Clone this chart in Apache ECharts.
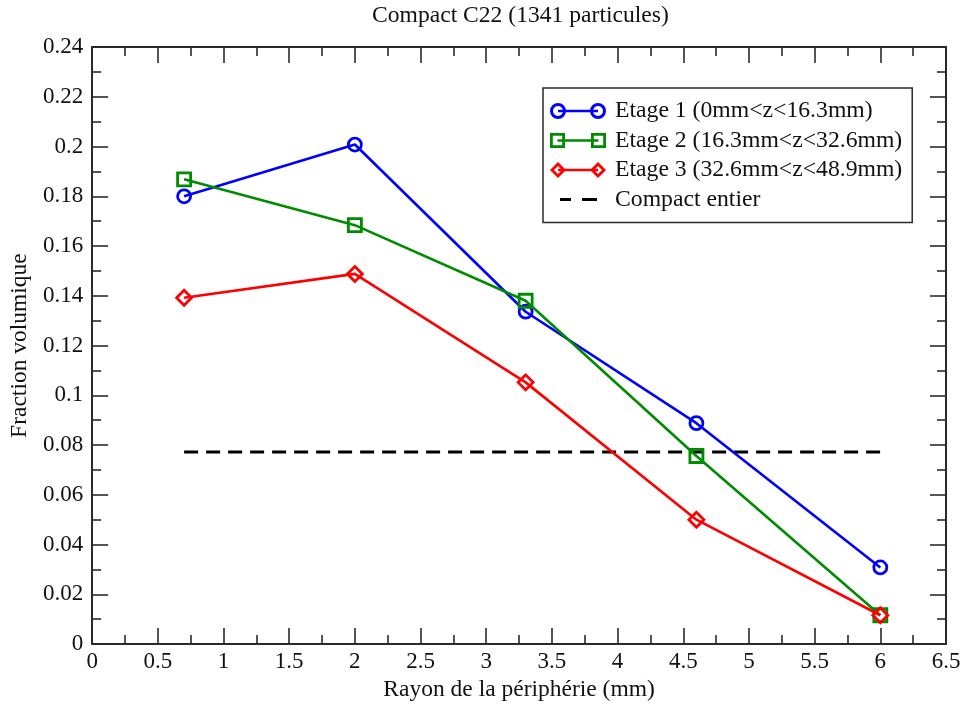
<!DOCTYPE html>
<html>
<head>
<meta charset="utf-8">
<script src="https://cdn.jsdelivr.net/npm/echarts@6/dist/echarts.min.js"></script>
<style>
html,body{margin:0;padding:0;background:#fff;}
#chart{width:967px;height:707px;}
</style>
</head>
<body>
<div id="chart"></div>
<script>
// ---- data ----
var radius = [0.7, 2, 3.3, 4.6, 6];
var etage1 = [0.180, 0.2008, 0.1336, 0.0888, 0.0308];
var etage2 = [0.1868, 0.1684, 0.1380, 0.0756, 0.0116];
var etage3 = [0.1392, 0.1488, 0.1052, 0.0500, 0.0116];
var compactX = [0.7, 6];
var compactY = [0.0772, 0.0772];
var seriesNames = ['Etage 1 (0mm<z<16.3mm)', 'Etage 2 (16.3mm<z<32.6mm)', 'Etage 3 (32.6mm<z<48.9mm)', 'Compact entier'];
var titleText = 'Compact C22 (1341 particules)';
var xName = 'Rayon de la périphérie (mm)';
var yName = 'Fraction volumique';

function pairs(xs, ys) { return xs.map(function (x, i) { return [x, ys[i]]; }); }

var FONT = 'Liberation Serif';
var AX = '#2a2a2a';
var C1 = '#0000ff', C2 = '#008c00', C3 = '#ff0000';

var iconCircle = 'path://M0 8A8 8 0 1 1 16 8A8 8 0 1 1 0 8Z M3 8A5 5 0 1 0 13 8A5 5 0 1 0 3 8Z ' +
  'M40 8A8 8 0 1 1 56 8A8 8 0 1 1 40 8Z M43 8A5 5 0 1 0 53 8A5 5 0 1 0 43 8Z M8 6.7L48 6.7L48 9.3L8 9.3Z';
var iconSquare = 'path://M0 0.5L15 0.5L15 15.5L0 15.5Z M2.8 3.3L2.8 12.7L12.2 12.7L12.2 3.3Z M41 0.5L56 0.5L56 15.5L41 15.5Z M43.8 3.3L43.8 12.7L53.2 12.7L53.2 3.3Z M7.5 6.7L48.5 6.7L48.5 9.3L7.5 9.3Z M0 0L0.05 0L0.05 0.05Z M55.95 15.95L56 15.95L56 16Z';
var iconDiamond = 'path://M8 0L16 8L8 16L0 8Z M8 4L4 8L8 12L12 8Z M48 0L56 8L48 16L40 8Z M48 4L44 8L48 12L52 8Z M8 6.7L48 6.7L48 9.3L8 9.3Z';
var iconDash = 'path://M0 0L0.05 0L0.05 0.05Z M55.95 15.95L56 15.95L56 16Z M10 6.5L21 6.5L21 9.5L10 9.5Z M32 6.5L47 6.5L47 9.5L32 9.5Z';

function valAxis(pos, min, max, interval, showLabel, extra) {
  var a = {
    type: 'value', position: pos, min: min, max: max, interval: interval,
    splitLine: { show: false },
    axisLine: { show: true, onZero: false, lineStyle: { color: AX, width: 2 } },
    axisTick: { show: true, inside: true, length: 16, lineStyle: { color: AX, width: 1.6 } },
    minorTick: { show: true, splitNumber: 2, length: 9, lineStyle: { color: AX, width: 1.6 } },
    axisLabel: { show: showLabel, color: '#111', fontFamily: FONT, fontSize: 23 }
  };
  for (var k in extra) a[k] = extra[k];
  return a;
}

var chart = echarts.init(document.getElementById('chart'), null, { renderer: 'canvas' });
chart.setOption({
  backgroundColor: '#fff',
  animation: false,
  title: {
    text: titleText, left: 372, top: 4, padding: 0,
    textStyle: { fontFamily: FONT, fontSize: 23.6, fontWeight: 'normal', color: '#111' }
  },
  grid: { left: 91, right: 21, top: 47, bottom: 60 },
  xAxis: [
    valAxis('bottom', 0, 6.5, 0.5, true, {
      name: xName, nameLocation: 'middle', nameGap: 32,
      nameTextStyle: { fontFamily: FONT, fontSize: 23.5, color: '#111' },
      axisLabel: { show: true, color: '#111', fontFamily: FONT, fontSize: 23, margin: 6 }
    }),
    valAxis('top', 0, 6.5, 0.5, false, {})
  ],
  yAxis: [
    valAxis('left', 0, 0.24, 0.02, true, {
      name: yName, nameLocation: 'middle', nameGap: 56,
      nameTextStyle: { fontFamily: FONT, fontSize: 23.5, color: '#111' },
      axisLabel: { show: true, color: '#111', fontFamily: FONT, fontSize: 23, margin: 9 }
    }),
    valAxis('right', 0, 0.24, 0.02, false, {})
  ],
  legend: {
    orient: 'vertical', left: 543, top: 88,
    padding: [11, 10, 11, 7],
    borderColor: AX, borderWidth: 1.5,
    itemWidth: 56, itemHeight: 16, itemGap: 5.5,
    textStyle: { fontFamily: FONT, fontSize: 23.7, lineHeight: 24, color: '#111', padding: [0, 0, 0, 4] },
    data: [
      { name: seriesNames[0], icon: iconCircle, itemStyle: { color: C1, borderWidth: 0 } },
      { name: seriesNames[1], icon: iconSquare, itemStyle: { color: C2, borderWidth: 0 } },
      { name: seriesNames[2], icon: iconDiamond, itemStyle: { color: C3, borderWidth: 0 } },
      { name: seriesNames[3], icon: iconDash, itemStyle: { color: '#000', borderWidth: 0 } }
    ]
  },
  series: [
    {
      name: seriesNames[3], type: 'line', data: pairs(compactX, compactY),
      symbol: 'none', lineStyle: { color: '#000', width: 3, type: [14, 8] }, z: 1
    },
    {
      name: seriesNames[0], type: 'line', data: pairs(radius, etage1),
      symbol: 'circle', symbolSize: 13, showAllSymbol: true,
      lineStyle: { color: C1, width: 2.6 },
      itemStyle: { color: 'rgba(255,255,255,0)', borderColor: C1, borderWidth: 2.8 }, z: 2
    },
    {
      name: seriesNames[1], type: 'line', data: pairs(radius, etage2),
      symbol: 'rect', symbolSize: 13, showAllSymbol: true,
      lineStyle: { color: C2, width: 2.6 },
      itemStyle: { color: 'rgba(255,255,255,0)', borderColor: C2, borderWidth: 2.8 }, z: 3
    },
    {
      name: seriesNames[2], type: 'line', data: pairs(radius, etage3),
      symbol: 'diamond', symbolSize: 15, showAllSymbol: true,
      lineStyle: { color: C3, width: 2.6 },
      itemStyle: { color: 'rgba(255,255,255,0)', borderColor: C3, borderWidth: 2.8 }, z: 4
    }
  ]
});
</script>
</body>
</html>
